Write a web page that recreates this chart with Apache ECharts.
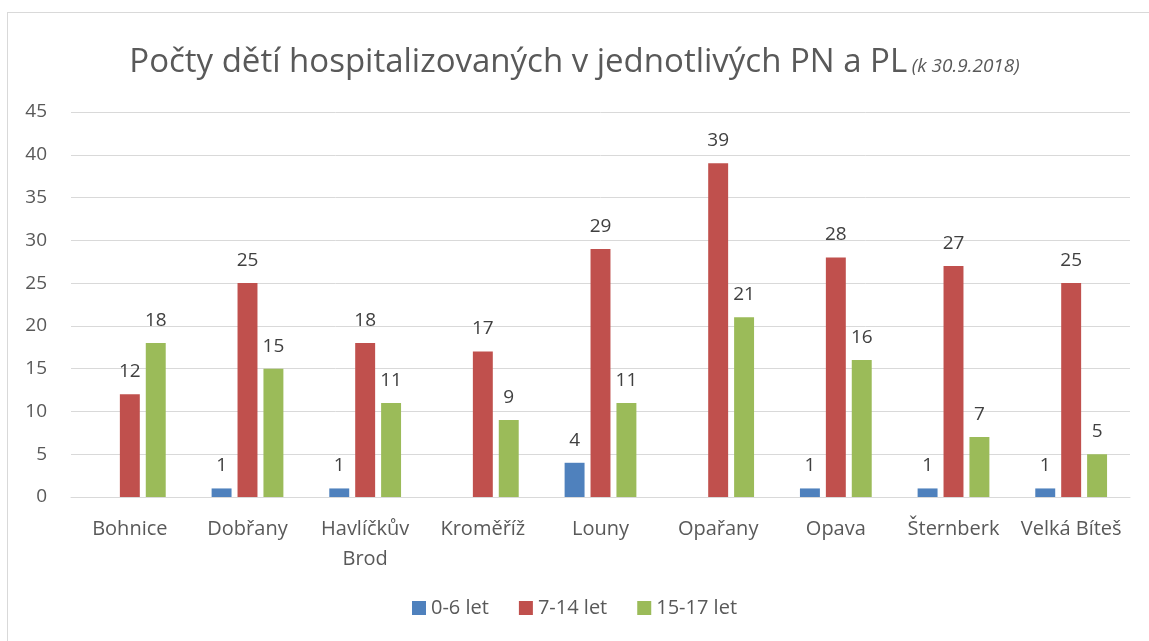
<!DOCTYPE html>
<html>
<head>
<meta charset="utf-8">
<script src="https://cdn.jsdelivr.net/npm/echarts@6/dist/echarts.min.js"></script>
<style>
html, body { margin: 0; padding: 0; background: #fff; }
#frame { position: absolute; left: 7px; top: 12px; width: 1200px; height: 700px; border-left: 1px solid #d9d9d9; border-top: 1px solid #d9d9d9; }
#main { position: absolute; left: 0; top: 0; width: 1149px; height: 641px; }
</style>
</head>
<body>
<div id="frame"></div>
<div id="main"></div>
<script>
var categories = ['Bohnice', 'Dobřany', 'Havlíčkův\nBrod', 'Kroměříž', 'Louny', 'Opařany', 'Opava', 'Šternberk', 'Velká Bíteš'];
var age0to6 = [null, 1, 1, null, 4, null, 1, 1, 1];
var age7to14 = [12, 25, 18, 17, 29, 39, 28, 27, 25];
var age15to17 = [18, 15, 11, 9, 11, 21, 16, 7, 5];
var yTicks = { min: 0, max: 45, interval: 5 };

var font = 'Open Sans';
var myChart = echarts.init(document.getElementById('main'));

function bar(name, data, color) {
    return {
        name: name,
        type: 'bar',
        data: data,
        barGap: '30%',
        barCategoryGap: '39%',
        itemStyle: { color: color },
        label: {
            show: true,
            position: 'top',
            distance: 13,
            color: '#404040',
            fontFamily: font,
            fontSize: 19
        }
    };
}

option = {
    textStyle: { fontFamily: font },
    title: {
        left: 'center',
        top: 41,
        text: '{a|Počty dětí hospitalizovaných v jednotlivých PN a PL} {b|(k 30.9.2018)}',
        textStyle: {
            fontWeight: 'normal',
            rich: {
                a: { fontSize: 33, color: '#595959', fontFamily: font, fontWeight: 'normal' },
                b: { fontSize: 19, color: '#595959', fontStyle: 'italic', fontFamily: font, fontWeight: 'normal', padding: [9, 0, 0, 0] }
            }
        }
    },
    legend: {
        bottom: 18,
        left: 'center',
        itemWidth: 14,
        itemHeight: 14,
        itemGap: 30,
        icon: 'rect',
        textStyle: { fontSize: 20, color: '#595959', fontFamily: font },
        data: ['0-6 let', '7-14 let', '15-17 let']
    },
    grid: {
        left: 71,
        right: 19,
        top: 112,
        bottom: 144,
        containLabel: false
    },
    xAxis: {
        type: 'category',
        data: categories,
        axisTick: { show: false },
        axisLine: { lineStyle: { color: '#d9d9d9', width: 1 } },
        axisLabel: {
            color: '#595959',
            fontSize: 20,
            fontFamily: font,
            margin: 17,
            lineHeight: 30,
            interval: 0
        }
    },
    yAxis: {
        type: 'value',
        min: yTicks.min,
        max: yTicks.max,
        interval: yTicks.interval,
        axisLine: { show: false },
        axisTick: { show: false },
        splitLine: { lineStyle: { color: '#d9d9d9', width: 1 } },
        axisLabel: { color: '#595959', fontSize: 19, fontFamily: font, margin: 24 }
    },
    series: [
        bar('0-6 let', age0to6, '#4f81bd'),
        bar('7-14 let', age7to14, '#c0504d'),
        bar('15-17 let', age15to17, '#9bbb59')
    ]
};

myChart.setOption(option);
</script>
</body>
</html>
